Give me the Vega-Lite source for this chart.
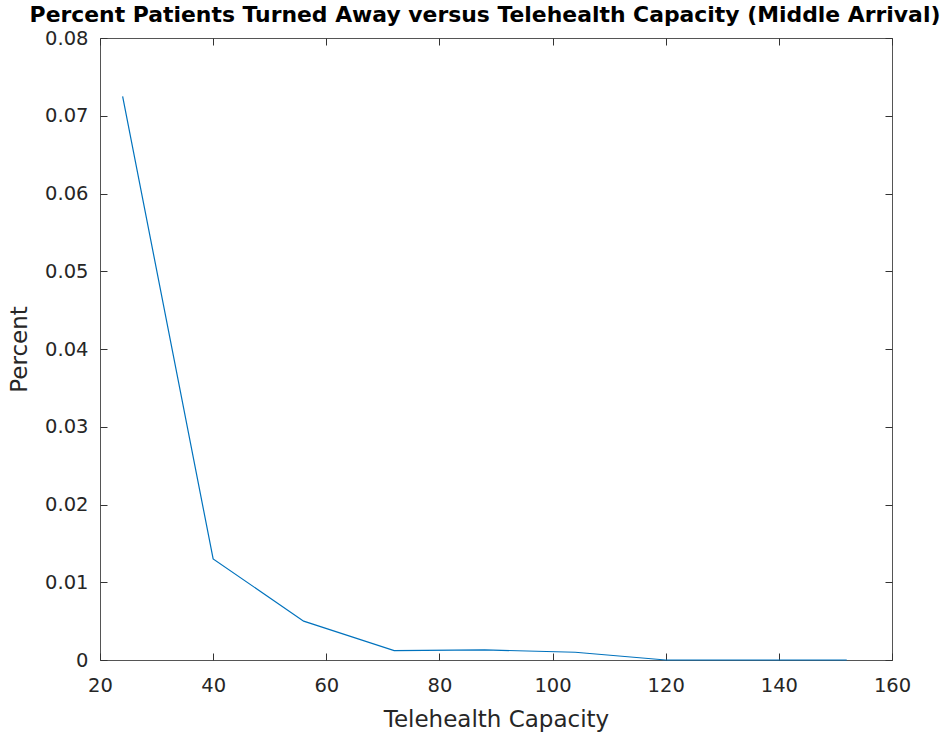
{
  "$schema": "https://vega.github.io/schema/vega-lite/v6.json",
  "width": 792,
  "height": 622,
  "autosize": "none",
  "padding": {"left": 100, "top": 38, "right": 58, "bottom": 80},
  "background": "white",
  "title": {
    "text": "Percent Patients Turned Away versus Telehealth Capacity (Middle Arrival)",
    "font": "DejaVu Sans",
    "fontSize": 21.9,
    "fontWeight": "bold",
    "color": "#000000",
    "anchor": "middle",
    "frame": "group",
    "offset": 1,
    "dx": -11
  },
  "config": {
    "view": {"stroke": "#555555", "strokeWidth": 1},
    "axis": {
      "grid": false,
      "domain": false,
      "labelFlush": false,
      "tickColor": "#333333",
      "tickSize": -7,
      "labelFont": "DejaVu Sans",
      "labelFontSize": 19.5,
      "labelColor": "#262626",
      "titleFont": "DejaVu Sans",
      "titleFontSize": 23,
      "titleFontWeight": "normal",
      "titleColor": "#262626"
    }
  },
  "data": {
    "values": [
      {"capacity": 24, "percent": 0.0725},
      {"capacity": 40, "percent": 0.0130},
      {"capacity": 56, "percent": 0.0050},
      {"capacity": 72, "percent": 0.0012},
      {"capacity": 88, "percent": 0.0013},
      {"capacity": 104, "percent": 0.0010},
      {"capacity": 120, "percent": 0.0000},
      {"capacity": 136, "percent": 0.0000},
      {"capacity": 152, "percent": 0.0000}
    ]
  },
  "layer": [
    {
      "mark": {"type": "line", "color": "#0072BD", "strokeWidth": 1.2},
      "encoding": {
        "x": {
          "field": "capacity", "type": "quantitative",
          "scale": {"domain": [20, 160], "nice": false, "zero": false},
          "axis": {"title": "Telehealth Capacity", "values": [20, 40, 60, 80, 100, 120, 140, 160], "labelPadding": 23, "titleY": 66, "titleBaseline": "alphabetic"}
        },
        "y": {
          "field": "percent", "type": "quantitative",
          "scale": {"domain": [0, 0.08], "nice": false, "zero": false},
          "axis": {"title": "Percent", "values": [0, 0.01, 0.02, 0.03, 0.04, 0.05, 0.06, 0.07, 0.08], "format": "~g", "labelPadding": 19, "titleX": -74, "titleBaseline": "alphabetic"}
        }
      }
    },
    {
      "mark": {"type": "line", "opacity": 0},
      "encoding": {
        "x": {
          "field": "capacity", "type": "quantitative",
          "scale": {"domain": [20, 160], "nice": false, "zero": false},
          "axis": {"orient": "top", "labels": false, "title": null, "values": [20, 40, 60, 80, 100, 120, 140, 160]}
        },
        "y": {
          "field": "percent", "type": "quantitative",
          "scale": {"domain": [0, 0.08], "nice": false, "zero": false},
          "axis": {"orient": "right", "labels": false, "title": null, "values": [0, 0.01, 0.02, 0.03, 0.04, 0.05, 0.06, 0.07, 0.08]}
        }
      }
    }
  ],
  "resolve": {"axis": {"x": "independent", "y": "independent"}}
}
